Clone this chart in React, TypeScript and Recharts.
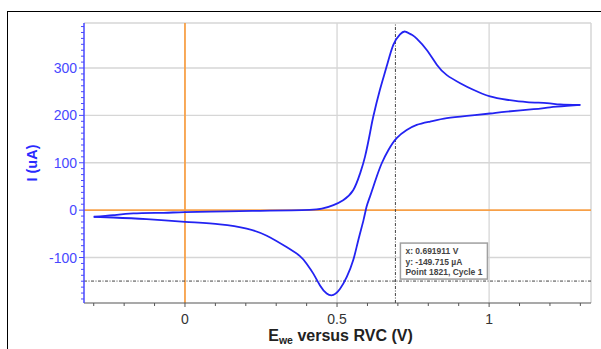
import React from "react";
import {
  LineChart,
  Line,
  XAxis,
  YAxis,
  ReferenceLine,
  ReferenceDot,
  Label,
} from "recharts";

// forward scan: -0.3 V -> 1.3 V
const forwardScan = [
  { x: -0.3, y: -14 },
  { x: -0.236, y: -10.6 },
  { x: -0.17, y: -7 },
  { x: -0.07, y: -5.6 },
  { x: 0, y: -4.2 },
  { x: 0.137, y: -2.8 },
  { x: 0.247, y: -1.4 },
  { x: 0.35, y: -0.4 },
  { x: 0.41, y: 0.5 },
  { x: 0.45, y: 3 },
  { x: 0.488, y: 10.6 },
  { x: 0.52, y: 21 },
  { x: 0.553, y: 42 },
  { x: 0.576, y: 78 },
  { x: 0.592, y: 113 },
  { x: 0.609, y: 165 },
  { x: 0.619, y: 197 },
  { x: 0.641, y: 254 },
  { x: 0.663, y: 303 },
  { x: 0.685, y: 349 },
  { x: 0.707, y: 371 },
  { x: 0.724, y: 377 },
  { x: 0.746, y: 370 },
  { x: 0.762, y: 362 },
  { x: 0.795, y: 338 },
  { x: 0.828, y: 307 },
  { x: 0.861, y: 285 },
  { x: 0.905, y: 268 },
  { x: 0.948, y: 254 },
  { x: 1.003, y: 240 },
  { x: 1.058, y: 233 },
  { x: 1.124, y: 228 },
  { x: 1.19, y: 226 },
  { x: 1.234, y: 223 },
  { x: 1.3, y: 222 },
];

// reverse scan: 1.3 V -> -0.3 V
const reverseScan = [
  { x: 1.3, y: 222 },
  { x: 1.256, y: 220 },
  { x: 1.2, y: 217 },
  { x: 1.146, y: 213 },
  { x: 1.058, y: 208 },
  { x: 1.003, y: 204 },
  { x: 0.927, y: 199 },
  { x: 0.861, y: 194 },
  { x: 0.806, y: 187 },
  { x: 0.762, y: 180 },
  { x: 0.729, y: 169 },
  { x: 0.696, y: 152 },
  { x: 0.669, y: 127 },
  { x: 0.647, y: 99 },
  { x: 0.63, y: 70 },
  { x: 0.619, y: 49 },
  { x: 0.608, y: 28 },
  { x: 0.597, y: 7 },
  { x: 0.587, y: -21 },
  { x: 0.57, y: -63 },
  { x: 0.553, y: -106 },
  { x: 0.532, y: -141 },
  { x: 0.51, y: -166 },
  { x: 0.488, y: -179 },
  { x: 0.466, y: -176 },
  { x: 0.444, y: -159 },
  { x: 0.422, y: -134 },
  { x: 0.4, y: -113 },
  { x: 0.378, y: -97 },
  { x: 0.334, y: -78 },
  { x: 0.269, y: -54 },
  { x: 0.203, y: -39 },
  { x: 0.115, y: -30 },
  { x: 0, y: -24.7 },
  { x: -0.126, y: -19 },
  { x: -0.236, y: -15.5 },
  { x: -0.3, y: -14 },
];

const xDomain = [-0.332, 1.335];
const yDomain = [-196, 395];

const xTicks = [
  -0.3, -0.2, -0.1, 0, 0.1, 0.2, 0.3, 0.4, 0.5, 0.6, 0.7, 0.8, 0.9, 1, 1.1, 1.2, 1.3,
];
const xLabels = [0, 0.5, 1];

const yTicks = [
  -187.5, -175, -162.5, -150, -137.5, -125, -112.5, -100, -87.5, -75, -62.5, -50,
  -37.5, -25, -12.5, 0, 12.5, 25, 37.5, 50, 62.5, 75, 87.5, 100, 112.5, 125, 137.5,
  150, 162.5, 175, 187.5, 200, 212.5, 225, 237.5, 250, 262.5, 275, 287.5, 300,
  312.5, 325, 337.5, 350, 362.5, 375, 387.5,
];
const yLabels = [-100, 0, 100, 200, 300];

const xGrid = [0.5, 1];
const yGrid = [-100, 100, 200, 300];

const cursor = { x: 0.691911, y: -149.715, point: 1821, cycle: 1 };

const BLUE = "#2323f2";
const AXIS_BLUE = "#4848ff";
const ORANGE = "#f7a048";
const GRID = "#d6d6d6";
const FONT = "Liberation Sans, Arial, sans-serif";

const YTick = (props: any) => {
  const { x, y, payload } = props;
  const major = yLabels.includes(payload.value);
  return (
    <g>
      <line x1={x - (major ? 5 : 3)} x2={x} y1={y} y2={y} stroke={AXIS_BLUE} strokeWidth={1} />
      {major && (
        <text x={x - 7} y={y + 5} textAnchor="end" fill={AXIS_BLUE} fontSize={14} fontFamily={FONT}>
          {payload.value}
        </text>
      )}
    </g>
  );
};

const XTick = (props: any) => {
  const { x, y, payload } = props;
  const major = xLabels.includes(payload.value);
  return (
    <g>
      <line x1={x} x2={x} y1={y} y2={y + (major ? 4 : 3)} stroke="#555" strokeWidth={1} />
      {major && (
        <text x={x} y={y + 21} textAnchor="middle" fill="#333" fontSize={14} fontFamily={FONT}>
          {payload.value}
        </text>
      )}
    </g>
  );
};

const CursorBox = (props: any) => {
  const { cx, cy } = props;
  const bx = cx + 5;
  const by = cy - 38;
  return (
    <g>
      <rect x={bx} y={by} width={87} height={36} fill="#fff" stroke="#a0a0a0" strokeWidth={1.5} />
      <text x={bx + 5} y={by + 11} fontSize={8.5} fontWeight="bold" fill="#444" fontFamily={FONT}>
        x: {cursor.x} V
      </text>
      <text x={bx + 5} y={by + 21.5} fontSize={8.5} fontWeight="bold" fill="#444" fontFamily={FONT}>
        y: {cursor.y} µA
      </text>
      <text x={bx + 5} y={by + 32} fontSize={8.5} fontWeight="bold" fill="#444" fontFamily={FONT}>
        Point {cursor.point}, Cycle {cursor.cycle}
      </text>
    </g>
  );
};

export default function App() {
  return (
    <div style={{ position: "absolute", left: 0, top: 0, width: 601, height: 349, background: "#fff", overflow: "hidden" }}>
      <div
        style={{
          position: "absolute",
          left: 7,
          top: 11,
          width: 600,
          height: 340,
          borderLeft: "1px solid #000",
          borderTop: "1px solid #000",
        }}
      />
      <div style={{ position: "absolute", left: 0, top: 0 }}>
        <LineChart width={601} height={349} margin={{ top: 23, right: 10, bottom: 0, left: 24 }}>
          <XAxis
            type="number"
            dataKey="x"
            domain={xDomain}
            allowDataOverflow
            ticks={xTicks}
            interval={0}
            tick={<XTick />}
            tickLine={false}
            tickSize={0}
            tickMargin={0}
            height={46}
            axisLine={{ stroke: "#555", strokeWidth: 1.2 }}
          >
            <Label
              content={(p: any) => {
                const vb = p.viewBox;
                return (
                  <text
                    x={vb.x + vb.width / 2 + 3}
                    y={vb.y + 38}
                    textAnchor="middle"
                    fontSize={16}
                    fontWeight="bold"
                    fill="#222"
                    fontFamily={FONT}
                  >
                    E
                    <tspan fontSize={10.5} dy={3}>we</tspan>
                    <tspan dy={-3}> versus RVC (V)</tspan>
                  </text>
                );
              }}
            />
          </XAxis>
          <YAxis
            type="number"
            domain={yDomain}
            allowDataOverflow
            ticks={yTicks}
            interval={0}
            tick={<YTick />}
            tickLine={false}
            tickSize={0}
            tickMargin={0}
            width={60}
            axisLine={{ stroke: AXIS_BLUE, strokeWidth: 1.5 }}
          >
            <Label
              content={(p: any) => {
                const vb = p.viewBox;
                const cx = vb.x + 8;
                const cy = vb.y + vb.height / 2;
                return (
                  <text
                    x={cx}
                    y={cy}
                    textAnchor="middle"
                    dominantBaseline="central"
                    transform={`rotate(-90 ${cx} ${cy})`}
                    fontSize={14.5}
                    fontWeight="bold"
                    fill="#2a2aff"
                    fontFamily={FONT}
                  >
                    I (uA)
                  </text>
                );
              }}
            />
          </YAxis>

          {yGrid.map((v) => (
            <ReferenceLine key={`gy${v}`} y={v} stroke={GRID} strokeWidth={1.3} />
          ))}
          {xGrid.map((v) => (
            <ReferenceLine key={`gx${v}`} x={v} stroke={GRID} strokeWidth={1.3} />
          ))}
          <ReferenceLine y={yDomain[1]} stroke={GRID} strokeWidth={1.5} />
          <ReferenceLine x={xDomain[1]} stroke={GRID} strokeWidth={1.5} />

          <ReferenceLine x={0} stroke={ORANGE} strokeWidth={1.8} />
          <ReferenceLine y={0} stroke={ORANGE} strokeWidth={1.8} />

          <ReferenceLine x={cursor.x} stroke="#444" strokeWidth={1} strokeDasharray="3 1.5 1 1.5" />
          <ReferenceLine y={cursor.y} stroke="#444" strokeWidth={1} strokeDasharray="3 1.5 1 1.5" />

          <Line
            data={forwardScan}
            type="natural"
            dataKey="y"
            stroke={BLUE}
            strokeWidth={1.8}
            dot={false}
            activeDot={false}
            isAnimationActive={false}
          />
          <Line
            data={reverseScan}
            type="natural"
            dataKey="y"
            stroke={BLUE}
            strokeWidth={1.8}
            dot={false}
            activeDot={false}
            isAnimationActive={false}
          />

          <ReferenceDot x={cursor.x} y={cursor.y} r={0} shape={<CursorBox />} />
        </LineChart>
      </div>
    </div>
  );
}
